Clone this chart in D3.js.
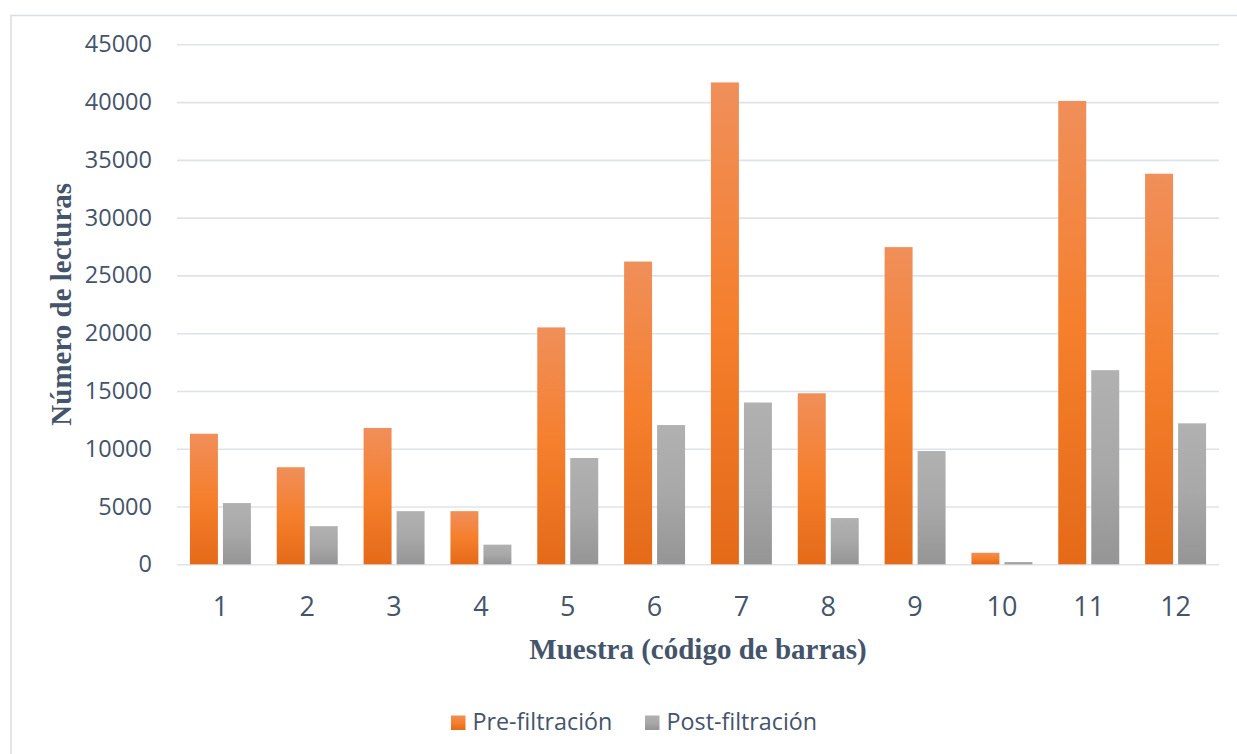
<!DOCTYPE html>
<html>
<head>
<meta charset="utf-8">
<script src="https://cdn.jsdelivr.net/npm/d3@7"></script>
<style>
  html, body { margin: 0; padding: 0; background: #ffffff; }
  svg { display: block; }
</style>
</head>
<body>
<svg id="chart" width="1237" height="754"></svg>
<script>
// Reads per sample, before and after filtering
const samples = ["1", "2", "3", "4", "5", "6", "7", "8", "9", "10", "11", "12"];
const seriesNames = ["Pre-filtración", "Post-filtración"];
const preFiltracion = [11300, 8400, 11800, 4600, 20500, 26200, 41700, 14800, 27450, 1000, 40100, 33800];
const postFiltracion = [5300, 3300, 4600, 1700, 9200, 12050, 14000, 4000, 9800, 200, 16800, 12200];
const yTicks = [0, 5000, 10000, 15000, 20000, 25000, 30000, 35000, 40000, 45000];

const seriesValues = [preFiltracion, postFiltracion];
const rows = samples.map((s, i) => ({
  sample: s,
  values: seriesNames.map((name, k) => ({ name, value: seriesValues[k][i] }))
}));

const svg = d3.select("#chart");
const textColor = "#44546A";
const gridColor = "#DFE3E9";

const plot = { left: 177, right: 1219, top: 44.3, bottom: 564.3 };

// Outer frame of the chart area
svg.append("rect")
  .attr("x", 11).attr("y", 15.5)
  .attr("width", 1300).attr("height", 800)
  .attr("fill", "none")
  .attr("stroke", "#D9DEE6")
  .attr("stroke-width", 1.5);

// Gradients for the two series
const defs = svg.append("defs");
function addGradient(id, stops) {
  const g = defs.append("linearGradient")
    .attr("id", id)
    .attr("x1", 0).attr("y1", 0).attr("x2", 0).attr("y2", 1);
  stops.forEach(([o, c]) => g.append("stop").attr("offset", o).attr("stop-color", c));
}
addGradient("grad-pre", [["0%", "#F08F5A"], ["50%", "#F57F2C"], ["100%", "#E46A18"]]);
addGradient("grad-post", [["0%", "#B1B1B1"], ["50%", "#A8A8A8"], ["100%", "#959595"]]);
const fillFor = { "Pre-filtración": "url(#grad-pre)", "Post-filtración": "url(#grad-post)" };

// Scales
const y = d3.scaleLinear().domain([0, 45000]).range([plot.bottom, plot.top]);
const x0 = d3.scaleBand().domain(samples).range([plot.left, plot.right]).padding(0);
const x1 = d3.scaleBand().domain(seriesNames).range([0, x0.bandwidth()])
  .paddingInner(0.152).paddingOuter(0.392);

// Horizontal gridlines with y-axis labels
const yAxis = d3.axisLeft(y)
  .tickValues(yTicks)
  .tickSize(-(plot.right - plot.left))
  .tickPadding(25)
  .tickFormat(d3.format("d"));

const yG = svg.append("g")
  .attr("transform", `translate(${plot.left},0)`)
  .call(yAxis);
yG.select(".domain").remove();
yG.selectAll(".tick line")
  .attr("stroke", gridColor)
  .attr("stroke-width", 1.6);
yG.selectAll(".tick text")
  .attr("fill", textColor)
  .style("font-family", "'Open Sans', sans-serif")
  .style("font-size", "23.5px");

// Bars
const groups = svg.append("g").selectAll("g")
  .data(rows)
  .join("g")
  .attr("transform", d => `translate(${x0(d.sample)},0)`);

groups.selectAll("rect")
  .data(d => d.values)
  .join("rect")
  .attr("x", d => x1(d.name))
  .attr("width", x1.bandwidth())
  .attr("y", d => y(d.value))
  .attr("height", d => y(0) - y(d.value))
  .attr("fill", d => fillFor[d.name]);

// Category axis labels
const xAxis = d3.axisBottom(x0).tickSize(0).tickPadding(0);
const xG = svg.append("g")
  .attr("transform", `translate(0,${plot.bottom})`)
  .call(xAxis);
xG.select(".domain").remove();
xG.selectAll(".tick text")
  .attr("y", 52)
  .attr("dy", 0)
  .attr("fill", textColor)
  .style("font-family", "'Open Sans', sans-serif")
  .style("font-size", "27px");

// Axis titles
svg.append("text")
  .attr("x", (plot.left + plot.right) / 2)
  .attr("y", 658.5)
  .attr("text-anchor", "middle")
  .attr("fill", textColor)
  .style("font-family", "'Liberation Serif', 'Times New Roman', serif")
  .style("font-weight", "bold")
  .style("font-size", "29px")
  .text("Muestra (código de barras)");

svg.append("text")
  .attr("transform", `translate(71,${(plot.top + plot.bottom) / 2}) rotate(-90)`)
  .attr("text-anchor", "middle")
  .attr("fill", textColor)
  .style("font-family", "'Liberation Serif', 'Times New Roman', serif")
  .style("font-weight", "bold")
  .style("font-size", "29px")
  .text("Número de lecturas");

// Legend
const legendItems = [
  { name: seriesNames[0], x: 451 },
  { name: seriesNames[1], x: 645 }
];
const legend = svg.append("g").selectAll("g")
  .data(legendItems)
  .join("g")
  .attr("transform", d => `translate(${d.x},0)`);
legend.append("rect")
  .attr("x", 0).attr("y", 715.5)
  .attr("width", 14.5).attr("height", 14.5)
  .attr("fill", d => fillFor[d.name]);
legend.append("text")
  .attr("x", 21.5).attr("y", 729.5)
  .attr("fill", textColor)
  .style("font-family", "'Open Sans', sans-serif")
  .style("font-size", "23.3px")
  .text(d => d.name);
</script>
</body>
</html>
